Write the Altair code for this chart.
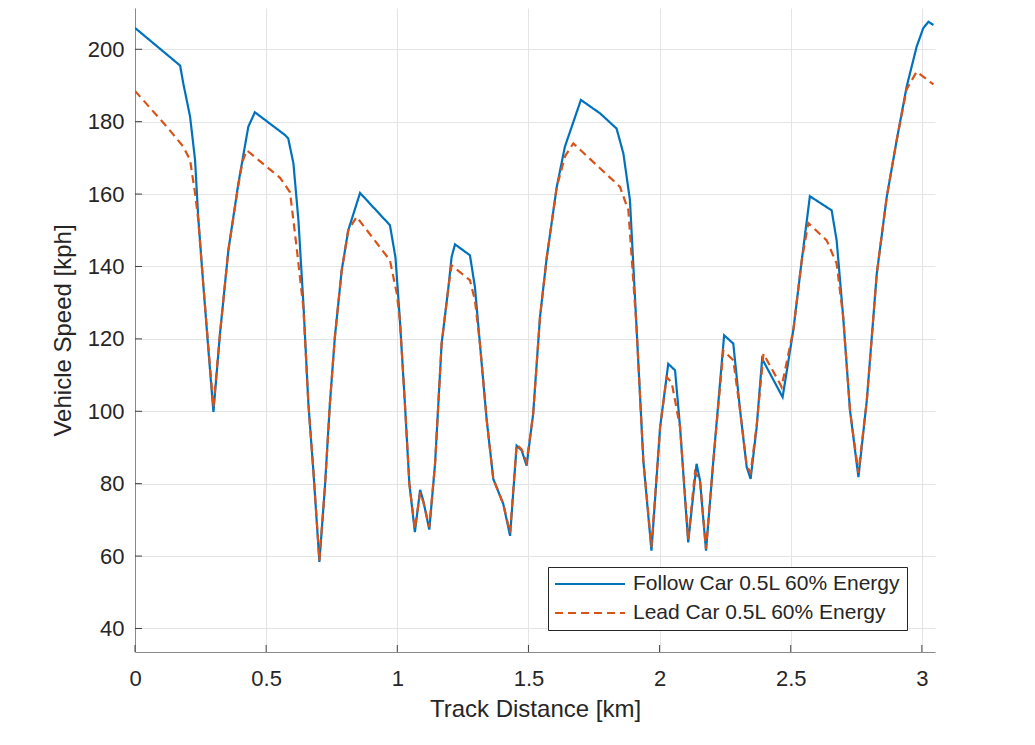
import altair as alt
import pandas as pd

FOLLOW = "Follow Car 0.5L 60% Energy"
LEAD = "Lead Car 0.5L 60% Energy"

follow_km = [0.000, 0.172, 0.184, 0.210, 0.229, 0.241, 0.260, 0.280, 0.299, 0.324,
             0.356, 0.394, 0.432, 0.457, 0.572, 0.584, 0.604, 0.623, 0.642, 0.661,
             0.680, 0.703, 0.724, 0.743, 0.762, 0.788, 0.813, 0.858, 0.972, 0.993,
             1.010, 1.029, 1.046, 1.067, 1.087, 1.099, 1.122, 1.144, 1.169, 1.195,
             1.207, 1.220, 1.277, 1.296, 1.315, 1.341, 1.366, 1.404, 1.430, 1.455,
             1.474, 1.493, 1.518, 1.544, 1.570, 1.608, 1.639, 1.700, 1.773, 1.836,
             1.862, 1.887, 1.912, 1.938, 1.969, 2.002, 2.033, 2.059, 2.078, 2.109,
             2.141, 2.154, 2.177, 2.205, 2.246, 2.281, 2.307, 2.332, 2.347, 2.370,
             2.391, 2.469, 2.510, 2.542, 2.573, 2.656, 2.675, 2.700, 2.726, 2.758,
             2.790, 2.828, 2.866, 2.904, 2.942, 2.980, 3.005, 3.025, 3.044]
follow_kph = [205.9, 195.5, 190.6, 181.4, 169.4, 153.7, 135.3, 116.8, 99.8, 121.4,
              144.5, 162.9, 178.6, 182.6, 176.3, 175.4, 168.5, 152.8, 129.7, 102.1,
              83.6, 58.4, 79.0, 102.1, 120.5, 138.9, 150.0, 160.3, 151.4, 142.5,
              125.1, 102.1, 80.0, 66.6, 78.3, 75.3, 67.3, 85.5, 118.7, 134.3,
              142.6, 146.1, 143.1, 134.3, 118.7, 97.5, 81.3, 74.4, 65.6, 90.5,
              89.2, 85.0, 99.3, 126.0, 142.6, 162.0, 173.1, 186.0, 182.3, 178.1,
              171.2, 158.3, 123.3, 86.4, 61.5, 95.6, 113.1, 111.3, 95.6, 63.8,
              85.5, 80.9, 61.5, 86.4, 121.0, 118.7, 100.2, 84.6, 81.3, 95.6,
              114.5, 103.9, 122.5, 141.7, 159.4, 155.5, 147.2, 126.0, 100.2, 81.8,
              103.0, 138.0, 159.2, 174.9, 189.7, 200.7, 205.8, 207.6, 206.7]

lead_km = [0.000, 0.121, 0.184, 0.210, 0.229, 0.241, 0.260, 0.280, 0.299, 0.324,
           0.356, 0.394, 0.410, 0.426, 0.553, 0.591, 0.616, 0.642, 0.661, 0.680,
           0.703, 0.724, 0.743, 0.762, 0.788, 0.813, 0.845, 0.972, 0.998, 1.010,
           1.029, 1.046, 1.067, 1.087, 1.099, 1.122, 1.144, 1.169, 1.195, 1.207,
           1.277, 1.296, 1.315, 1.341, 1.366, 1.404, 1.430, 1.455, 1.474, 1.493,
           1.518, 1.544, 1.570, 1.608, 1.640, 1.671, 1.849, 1.881, 1.912, 1.938,
           1.969, 2.002, 2.027, 2.046, 2.078, 2.109, 2.135, 2.154, 2.177, 2.205,
           2.243, 2.281, 2.307, 2.332, 2.347, 2.370, 2.396, 2.459, 2.465, 2.510,
           2.542, 2.567, 2.637, 2.675, 2.700, 2.726, 2.758, 2.790, 2.828, 2.866,
           2.904, 2.942, 2.980, 3.031, 3.044]
lead_kph = [188.5, 178.6, 173.1, 169.4, 160.2, 153.0, 135.3, 117.5, 101.1, 121.4,
            144.5, 162.5, 169.0, 172.1, 164.5, 160.5, 145.4, 128.5, 102.1, 83.6,
            58.8, 79.0, 102.1, 120.5, 138.9, 150.0, 153.7, 141.7, 132.5, 125.1,
            102.1, 80.0, 67.5, 77.5, 75.0, 68.0, 85.5, 118.7, 134.3, 140.3,
            136.2, 130.6, 118.7, 97.5, 81.3, 74.4, 66.5, 90.8, 89.5, 86.0,
            99.3, 126.0, 142.6, 162.0, 170.5, 174.0, 162.0, 155.5, 123.3, 86.4,
            62.5, 95.6, 109.4, 108.0, 95.6, 64.5, 83.2, 80.9, 62.0, 86.4,
            116.8, 114.1, 100.2, 85.0, 83.0, 96.0, 115.9, 107.6, 106.7, 122.5,
            141.7, 152.0, 147.2, 140.8, 126.0, 100.2, 83.0, 103.0, 138.0, 159.2,
            174.9, 189.0, 193.8, 191.0, 190.3]

x_ticks = [0, 0.5, 1, 1.5, 2, 2.5, 3]
y_ticks = [40, 60, 80, 100, 120, 140, 160, 180, 200]

W, H = 800, 644
FONT = "Liberation Sans"
TXT = "#262626"

df = pd.concat([
    pd.DataFrame({"km": follow_km, "kph": follow_kph, "series": FOLLOW}),
    pd.DataFrame({"km": lead_km, "kph": lead_kph, "series": LEAD}),
], ignore_index=True)

xscale = alt.Scale(domain=[0, 3.05], nice=False, zero=False)
yscale = alt.Scale(domain=[33.5, 211.4], nice=False, zero=False)

xaxis = alt.Axis(values=x_ticks, format="~g", title="Track Distance [km]",
                 labelFontSize=22, titleFontSize=24, labelFont=FONT, titleFont=FONT,
                 labelColor=TXT, titleColor=TXT, titleFontWeight="normal",
                 grid=True, gridColor="#e4e4e4", gridWidth=1,
                 domainColor="#8a8a8a", domainWidth=1,
                 ticks=False, tickSize=0, labelPadding=16, titlePadding=8,
                 labelFlush=False, labelOverlap=False)
yaxis = alt.Axis(values=y_ticks, title="Vehicle Speed [kph]",
                 labelFontSize=22, titleFontSize=24, labelFont=FONT, titleFont=FONT,
                 labelColor=TXT, titleColor=TXT, titleFontWeight="normal",
                 grid=True, gridColor="#e4e4e4", gridWidth=1,
                 domainColor="#8a8a8a", domainWidth=1,
                 ticks=False, tickSize=0, labelPadding=11, titlePadding=12,
                 labelFlush=False, labelOverlap=False)

legend = alt.Legend(title=None, orient="none", legendX=413, legendY=559,
                    symbolType="stroke", symbolSize=4900, symbolStrokeWidth=2,
                    clipHeight=22,
                    labelFont=FONT, labelFontSize=21, labelColor=TXT, labelLimit=400,
                    labelOffset=7, rowPadding=7, padding=6,
                    fillColor="white", strokeColor="#262626", cornerRadius=0)

color = alt.Color("series:N", scale=alt.Scale(domain=[FOLLOW, LEAD], range=["#0072BD", "#D95319"]),
                  legend=legend)
dash = alt.StrokeDash("series:N", scale=alt.Scale(domain=[FOLLOW, LEAD], range=[[1, 0], [8, 5]]),
                      legend=legend)

base = alt.Chart(df).mark_line(strokeWidth=2.2, clip=True, strokeCap="butt").encode(
    x=alt.X("km:Q", scale=xscale, axis=xaxis),
    y=alt.Y("kph:Q", scale=yscale, axis=yaxis),
    color=color,
    strokeDash=dash,
    order=alt.Order("km:Q"),
)

follow_line = base.transform_filter(alt.datum.series == FOLLOW)
lead_line = base.transform_filter(alt.datum.series == LEAD)

xt = alt.Chart(pd.DataFrame({"km": x_ticks})).mark_rule(color="#404040", strokeWidth=1).encode(
    x=alt.X("km:Q", scale=xscale, axis=xaxis),
    y=alt.value(H), y2=alt.value(H - 7),
)
yt = alt.Chart(pd.DataFrame({"kph": y_ticks})).mark_rule(color="#404040", strokeWidth=1).encode(
    y=alt.Y("kph:Q", scale=yscale, axis=yaxis),
    x=alt.value(0), x2=alt.value(7),
)

chart = alt.layer(xt, yt, follow_line, lead_line).properties(
    width=W, height=H,
    autosize=alt.AutoSizeParams(type="none"),
    padding={"left": 127, "top": 0, "right": 20, "bottom": 85},
    background="white",
).configure_view(stroke=None)

chart.save("out.html", embed_options={"renderer": "svg", "actions": False})
